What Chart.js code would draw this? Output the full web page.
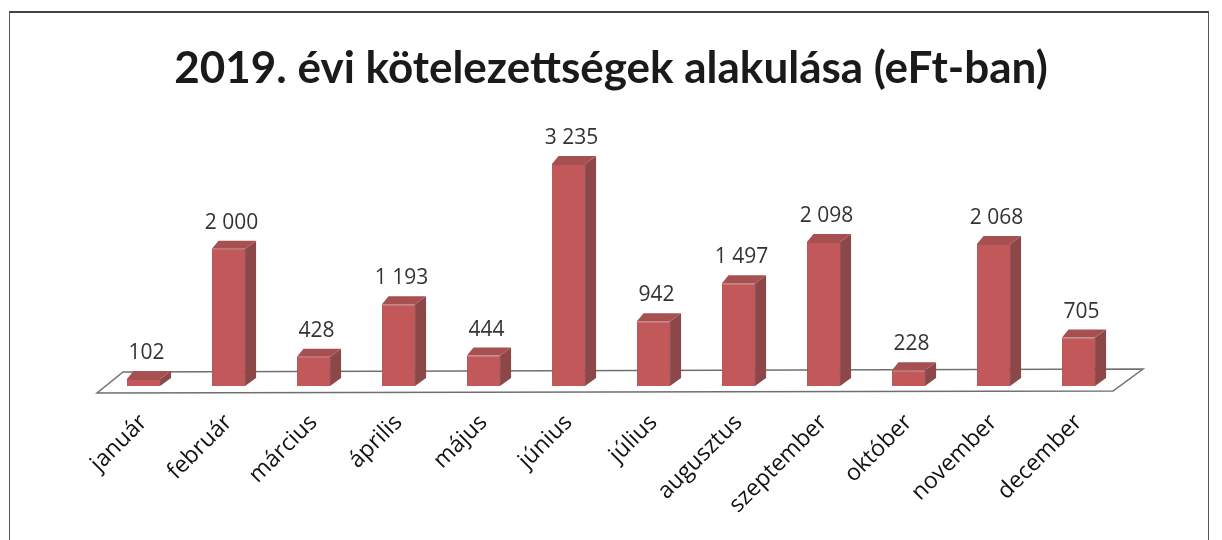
<!DOCTYPE html>
<html>
<head>
<meta charset="utf-8">
<script src="https://cdn.jsdelivr.net/npm/chart.js@4"></script>
<style>
html, body { margin: 0; padding: 0; background: #fff; }
#wrap { position: relative; width: 1222px; height: 540px; overflow: hidden; }
#frame { position: absolute; left: 9px; top: 11px; width: 1198px; height: 580px;
         border: 1px solid #555; border-top: 2px solid #444; }
canvas { position: absolute; left: 0; top: 0; }
</style>
</head>
<body>
<div id="wrap">
  <div id="frame"></div>
  <canvas id="chart" width="1222" height="540"></canvas>
</div>
<script>
var chartTitle = '2019. évi kötelezettségek alakulása (eFt-ban)';
var months = ['január', 'február', 'március', 'április', 'május', 'június',
              'július', 'augusztus', 'szeptember', 'október', 'november', 'december'];
var values = [102, 2000, 428, 1193, 444, 3235, 942, 1497, 2098, 228, 2068, 705];

function fmt(v) {
    return String(v).replace(/\B(?=(\d{3})+(?!\d))/g, ' ');
}

// pseudo 3D: floor, side + top faces, value labels
var bar3d = {
    id: 'bar3d',
    beforeDatasetsDraw: function(chart) {
        var ctx = chart.ctx, a = chart.chartArea;
        var y0 = chart.scales.y.getPixelForValue(0);
        ctx.save();
        ctx.strokeStyle = '#6f6f6f';
        ctx.lineWidth = 1.5;
        ctx.beginPath();
        ctx.moveTo(a.left - 4, y0 + 7);
        ctx.lineTo(a.left + 22, y0 - 14);
        ctx.lineTo(a.right + 22, y0 - 17);
        ctx.lineTo(a.right - 8, y0 + 5);
        ctx.closePath();
        ctx.stroke();
        ctx.restore();
    },
    afterDatasetsDraw: function(chart) {
        var ctx = chart.ctx;
        var meta = chart.getDatasetMeta(0);
        var dx = 11, dy = 8;
        ctx.save();
        meta.data.forEach(function(bar, i) {
            var p = bar.getProps(['x', 'y', 'base', 'width'], true);
            var l = p.x - p.width / 2, r = p.x + p.width / 2;
            // side
            ctx.fillStyle = '#8c4748';
            ctx.beginPath();
            ctx.moveTo(r, p.y);
            ctx.lineTo(r + dx, p.y - dy);
            ctx.lineTo(r + dx, p.base - dy);
            ctx.lineTo(r, p.base);
            ctx.closePath();
            ctx.fill();
            // top
            ctx.fillStyle = '#a65051';
            ctx.beginPath();
            ctx.moveTo(l, p.y);
            ctx.lineTo(l + dx * 0.6, p.y - dy);
            ctx.lineTo(r + dx, p.y - dy);
            ctx.lineTo(r, p.y);
            ctx.closePath();
            ctx.fill();
            // value
            ctx.fillStyle = '#333';
            ctx.font = '21px "Open Sans"';
            ctx.textAlign = 'center';
            ctx.textBaseline = 'middle';
            ctx.fillText(fmt(values[i]), p.x + 3, p.y - 26);
        });
        ctx.restore();
    }
};

var ctx = document.getElementById('chart').getContext('2d');
var chart = new Chart(ctx, {
    type: 'bar',
    data: {
        labels: months,
        datasets: [{
            data: values,
            backgroundColor: '#c2585a',
            borderColor: '#ad4e50',
            borderWidth: 1,
            barPercentage: 0.39,
            categoryPercentage: 1
        }]
    },
    options: {
        responsive: false,
        animation: false,
        layout: { padding: { left: 101, right: 101, top: 0, bottom: 0 } },
        plugins: {
            legend: { display: false },
            tooltip: { enabled: false },
            title: {
                display: true,
                text: chartTitle,
                color: '#1a1a1a',
                font: { family: 'Lato', size: 44, weight: 'bold', lineHeight: 1.2 },
                padding: { top: 42, bottom: 51 }
            }
        },
        scales: {
            x: {
                grid: { display: false, drawTicks: false },
                border: { display: false },
                ticks: {
                    color: '#111',
                    font: { family: 'Open Sans', size: 23 },
                    minRotation: 45,
                    maxRotation: 45,
                    autoSkip: false,
                    padding: 23
                },
                afterFit: function(s) { s.height = 154; }
            },
            y: {
                display: false,
                min: 0,
                max: 3500
            }
        }
    },
    plugins: [bar3d]
});
</script>
</body>
</html>
